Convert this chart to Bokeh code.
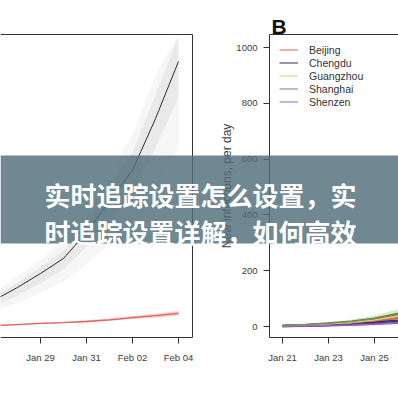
import pandas as pd
from bokeh.plotting import figure
from bokeh.models import (Range1d, LinearAxis, FixedTicker, DatetimeTickFormatter,
                          Label, Legend, LegendItem, BoxAnnotation)
from bokeh.embed import file_html
from bokeh.resources import INLINE

# ---------------- data ----------------
# Panel A (left): central trajectory, ensemble spread, and a second (red) series
a_dates = ["2020-01-27", "2020-01-28", "2020-01-29", "2020-01-30", "2020-01-31",
           "2020-02-01", "2020-02-02", "2020-02-03", "2020-02-04"]
a_central = [95, 140, 190, 244, 337, 450, 560, 745, 950]
a_outer_lo = [55, 85, 120, 160, 220, 300, 380, 500, 640]
a_outer_hi = [125, 180, 240, 305, 415, 550, 690, 900, 1046]
a_inner_lo = [75, 110, 155, 205, 285, 380, 480, 640, 820]
a_inner_hi = [108, 158, 212, 272, 372, 500, 625, 830, 1040]
a_red = [3, 7, 11, 14, 18, 24, 32, 39, 47]
a_red_lo = [2, 5, 9, 12, 15, 20, 27, 32, 39]
a_red_hi = [5, 9, 13, 17, 22, 29, 38, 46, 56]
a_tick_dates = ["2020-01-27", "2020-01-29", "2020-01-31", "2020-02-02", "2020-02-04"]

# Panel B (right): new infections per day by city
b_dates = ["2020-01-21", "2020-01-22", "2020-01-23", "2020-01-24",
           "2020-01-25", "2020-01-26", "2020-01-27"]
b_cities = ["Beijing", "Chengdu", "Guangzhou", "Shanghai", "Shenzen"]
beijing = [2, 4, 8, 13, 20, 31, 48]
chengdu = [1, 3, 5, 9, 14, 21, 32]
guangzhou = [2, 5, 9, 15, 24, 37, 57]
shanghai = [3, 6, 11, 18, 28, 45, 70]
shenzen = [1, 2, 4, 6, 9, 13, 19]
shanghai_lo = [2, 4, 8, 13, 20, 32, 50]
shanghai_hi = [4, 8, 15, 25, 39, 62, 96]
beijing_lo = [1, 3, 6, 10, 15, 23, 36]
beijing_hi = [3, 6, 11, 17, 27, 42, 64]
shenzen_lo = [1, 1, 3, 4, 7, 10, 14]
shenzen_hi = [2, 3, 5, 8, 11, 16, 24]
b_y_ticks = [0, 200, 400, 600, 800, 1000]
b_tick_dates = ["2020-01-21", "2020-01-23", "2020-01-25", "2020-01-27"]

banner_lines = ["实时追踪设置怎么设置，实", "时追踪设置详解，如何高效"]

# ---------------- layout helpers (one 398x398 frame, two panels via ranges) ----------------
W = H = 398
DAY = 86400000.0
PXD = 23.0  # pixels per day in both panels


def ms(d):
    return pd.Timestamp(d).value / 1e6


def yv(py):  # shared value scale of both panels
    return (326.0 - py) * 1000.0 / 279.0


def ax_(px):  # panel A time scale
    return ms("2020-01-27") + (px + 6) / PXD * DAY


def bx_(px):  # panel B time scale
    return ms("2020-01-21") + (px - 282) / PXD * DAY


A_L, A_R = 0, 192
B_L, B_R = 269, W
TOP, BOT = 34, 337

AXC = "#333333"
FONT = "Liberation Sans"
date_fmt = DatetimeTickFormatter(days="%b %d", months="%b %d", hours="%b %d", years="%b %d")

p = figure(width=W, height=H, output_backend="svg", toolbar_location=None,
           x_axis_type=None, y_axis_type=None,
           x_range=Range1d(bx_(0), bx_(W)), y_range=Range1d(yv(H), yv(0)),
           min_border=0, min_border_left=0, min_border_right=0,
           min_border_top=0, min_border_bottom=0,
           outline_line_color=None, background_fill_color="white",
           border_fill_color="white")
p.extra_x_ranges = {"a": Range1d(ax_(0), ax_(W))}


def tick_axis(ticks, fmt=None, **kw):
    ax = LinearAxis(ticker=FixedTicker(ticks=ticks), **kw)
    if fmt is not None:
        ax.formatter = fmt
    ax.axis_line_color = AXC
    ax.major_tick_line_color = AXC
    ax.major_tick_out = 6
    ax.major_tick_in = 0
    ax.minor_tick_line_color = None
    ax.major_label_text_font = FONT
    ax.major_label_text_font_size = "9.5px"
    ax.major_label_text_color = "#3c3c3c"
    return ax


def line_axis(**kw):
    ax = LinearAxis(ticker=FixedTicker(ticks=[]), **kw)
    ax.axis_line_color = AXC
    ax.major_tick_line_color = None
    ax.minor_tick_line_color = None
    ax.major_label_text_font_size = "0px"
    return ax


# ---------------- panel A ----------------
ad = pd.to_datetime(a_dates)
p.varea(x=ad, y1=a_outer_lo, y2=a_outer_hi, fill_color="black", fill_alpha=0.035, x_range_name="a")
p.varea(x=ad, y1=a_inner_lo, y2=a_inner_hi, fill_color="black", fill_alpha=0.05, x_range_name="a")
p.line(x=ad, y=a_central, line_color="#1a1a1a", line_width=0.9, x_range_name="a")
p.varea(x=ad, y1=a_red_lo, y2=a_red_hi, fill_color="#f2a29a", fill_alpha=0.55, x_range_name="a")
p.line(x=ad, y=a_red, line_color="#e0605a", line_width=1.3, x_range_name="a")

xa = tick_axis([ms(d) for d in a_tick_dates], fmt=date_fmt, x_range_name="a",
               fixed_location=yv(BOT), bounds=(ax_(A_L), ax_(A_R)))
xa.major_label_standoff = 8
p.add_layout(xa, "below")
p.add_layout(line_axis(x_range_name="a", fixed_location=yv(TOP),
                       bounds=(ax_(A_L), ax_(A_R))), "above")
p.add_layout(line_axis(x_range_name="a", fixed_location=ax_(A_R),
                       bounds=(yv(BOT), yv(TOP))), "right")

# ---------------- panel B ----------------
bd = pd.to_datetime(b_dates)
p.varea(x=bd, y1=shanghai_lo, y2=shanghai_hi, fill_color="#9cc47a", fill_alpha=0.35)
p.varea(x=bd, y1=beijing_lo, y2=beijing_hi, fill_color="#f08060", fill_alpha=0.45)
p.varea(x=bd, y1=shenzen_lo, y2=shenzen_hi, fill_color="#b080e0", fill_alpha=0.3)

line_colors = ["#d9472b", "#2b2b6b", "#e8b030", "#5a7a1e", "#8a3fc0"]
legend_colors = ["#c77a70", "#3a3a70", "#e3cf7a", "#6f9470", "#9a72c0"]
series = [beijing, chengdu, guangzhou, shanghai, shenzen]
for vals, col in zip(series, line_colors):
    p.line(x=bd, y=vals, line_color=col, line_width=2.2)

items = []
for name, vals, col in zip(b_cities, series, legend_colors):
    r = p.line(x=bd, y=vals, line_color=col, line_width=1.2, line_alpha=0.9)
    items.append(LegendItem(label=name, renderers=[r]))
leg = Legend(items=items, location=(279, 290), margin=0, padding=0, spacing=0,
             glyph_width=19, glyph_height=13, label_height=13, label_standoff=11,
             label_text_font=FONT, label_text_font_size="10.5px", label_text_color="#333333",
             border_line_color=None, background_fill_alpha=0)
p.add_layout(leg)

xb = tick_axis([ms(d) for d in b_tick_dates], fmt=date_fmt,
               fixed_location=yv(BOT), bounds=(bx_(B_L), bx_(B_R)))
xb.major_label_standoff = 8
p.add_layout(xb, "below")
yb = tick_axis(b_y_ticks, fixed_location=bx_(B_L), bounds=(yv(BOT), yv(TOP)))
yb.major_label_standoff = 6
yb.axis_label = "New infections, per day"
yb.axis_label_text_font = FONT
yb.axis_label_text_font_size = "12px"
yb.axis_label_text_font_style = "normal"
yb.axis_label_text_color = "#3c3c3c"
yb.axis_label_standoff = -1
p.add_layout(yb, "left")
p.add_layout(line_axis(fixed_location=yv(TOP), bounds=(bx_(B_L), bx_(B_R))), "above")

p.add_layout(Label(x=bx_(271), y=yv(14), text="B", text_font=FONT, text_font_size="21px",
                   text_font_style="bold", text_color="#111111",
                   text_align="left", text_baseline="top"))

# ---------------- banner overlay ----------------
p.add_layout(BoxAnnotation(top=yv(155), bottom=yv(243), fill_color="#4f6e7a",
                           fill_alpha=0.82, line_color=None, level="overlay"))
for line_txt, base_py in zip(banner_lines, (193.5, 231.0)):
    p.add_layout(Label(x=bx_(44), y=yv(base_py), text=line_txt,
                       text_font="Noto Sans CJK SC", text_font_size="26px",
                       text_font_style="bold", text_color="white",
                       text_align="left", text_baseline="alphabetic", level="overlay"))

open("out.html", "w").write(file_html(p, INLINE))
